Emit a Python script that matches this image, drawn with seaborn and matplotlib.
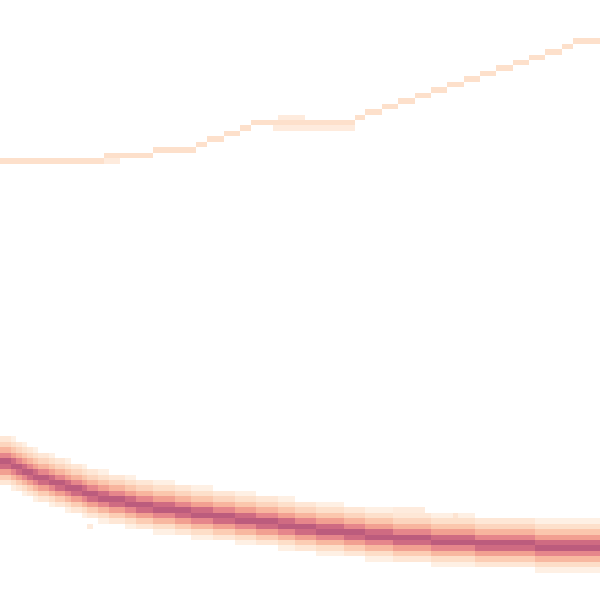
import pandas as pd
import matplotlib
matplotlib.use("Agg")
import matplotlib.pyplot as plt
import seaborn as sns

n_bins = 110

# lower band: centre of the band (in rows, 0 = top) for every column
band_centre = [
    84.5, 84.9, 85.4, 85.8, 86.2, 86.7, 87.1, 87.5, 87.9, 88.3,
    88.6, 88.9, 89.2, 89.6, 89.9, 90.2, 90.5, 90.8, 91.1, 91.3,
    91.5, 91.7, 91.9, 92.1, 92.3, 92.5, 92.7, 92.9, 93.0, 93.2,
    93.3, 93.4, 93.6, 93.7, 93.8, 94.0, 94.1, 94.2, 94.4, 94.5,
    94.6, 94.7, 94.8, 95.0, 95.1, 95.2, 95.3, 95.5, 95.6, 95.8,
    95.9, 96.0, 96.2, 96.3, 96.5, 96.6, 96.7, 96.8, 97.0, 97.1,
    97.2, 97.3, 97.4, 97.6, 97.7, 97.8, 97.9, 98.0, 98.1, 98.2,
    98.3, 98.4, 98.5, 98.6, 98.7, 98.7, 98.8, 98.9, 98.9, 99.0,
    99.1, 99.1, 99.2, 99.2, 99.3, 99.4, 99.4, 99.5, 99.5, 99.6,
    99.6, 99.7, 99.7, 99.8, 99.8, 99.8, 99.9, 99.9, 100.0, 100.0,
    100.1, 100.1, 100.1, 100.2, 100.2, 100.2, 100.3, 100.3, 100.3, 100.3,
]
# cross-section of the band: offset from the centre (rows) and weight
band_offsets = [-4.5, -4.0, -3.5, -3.0, -2.5, -2.0, -1.5, -1.0, -0.5,
                0.0, 0.5, 1.0, 1.5, 2.0, 2.5, 3.0, 3.5, 4.0]
band_weights = [0.6, 0.8, 1.2, 1.6, 2.2, 2.8, 3.5, 4.3, 5.2,
                5.8, 5.2, 4.3, 3.5, 2.8, 2.0, 1.4, 0.8, 0.6]

# upper thin curve: row for runs of columns
upper_run_start = [0, 19, 28, 36, 38, 41, 44, 46, 65, 67, 70, 73, 76, 79, 82,
                   85, 88, 91, 94, 97, 100, 103, 105]
upper_run_row = [29, 28, 27, 26, 25, 24, 23, 22, 21, 20, 19, 18, 17, 16, 15,
                 14, 13, 12, 11, 10, 9, 8, 7]
upper_count = 2

# stray cells
extra_cols = [19, 20, 21, 50, 51, 52, 53, 54, 55, 56, 51, 52, 53, 54, 55,
              57, 58, 59, 60, 61, 62, 63, 64,
              72, 73, 74, 75, 76, 77, 83, 16]
extra_rows = [29, 29, 29, 23, 23, 23, 23, 23, 23, 23, 21, 21, 21, 21, 21,
              23, 23, 23, 23, 23, 23, 23, 23,
              93, 93, 93, 93, 93, 93, 94, 96]
extra_counts = [1] * len(extra_cols)

rows = []
for c, centre in enumerate(band_centre):
    for off, w in zip(band_offsets, band_weights):
        rows.append((c + 0.5, centre + off, w))

ends = upper_run_start[1:] + [n_bins]
for s, e, r in zip(upper_run_start, ends, upper_run_row):
    for c in range(s, e):
        rows.append((c + 0.5, r + 0.5, upper_count))

for c, r, w in zip(extra_cols, extra_rows, extra_counts):
    rows.append((c + 0.5, r + 0.5, w))

df = pd.DataFrame(rows, columns=["x", "y", "w"])

cmap = sns.blend_palette(["#fff6ee", "#fde0cb", "#fbc4aa", "#f4a592",
                          "#e4838a", "#c8637f", "#b0557c"], as_cmap=True)

fig = plt.figure(figsize=(6, 6), dpi=100)
ax = fig.add_axes([0, 0, 1, 1])
sns.histplot(data=df, x="x", y="y", weights="w", binwidth=1,
             binrange=((0, n_bins), (0, n_bins)), cmap=cmap,
             vmin=0, vmax=12, ax=ax)
ax.set_xlim(0, n_bins)
ax.set_ylim(n_bins, 0)
ax.axis("off")
fig.savefig("out.png", dpi=100)
plt.close()
